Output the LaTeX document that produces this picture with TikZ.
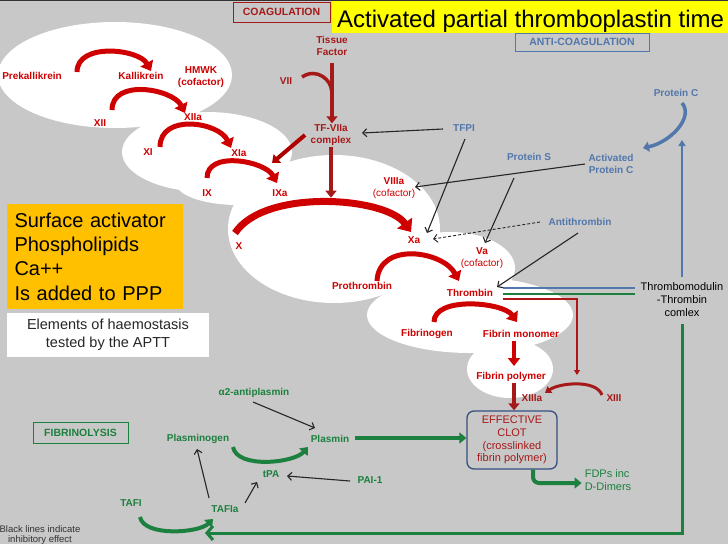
\documentclass[tikz,border=0pt]{standalone}
\usepackage{fontspec}
\setmainfont{Liberation Sans}
\usetikzlibrary{arrows.meta,calc}
\definecolor{bggray}{RGB}{200,200,200}
\definecolor{coagred}{RGB}{206,0,0}
\definecolor{tfred}{RGB}{165,25,25}
\definecolor{antiblue}{RGB}{82,119,172}
\definecolor{lysisgreen}{RGB}{28,128,62}
\definecolor{clotblue}{RGB}{55,80,130}
\definecolor{apttorange}{RGB}{255,192,0}
\definecolor{titleyellow}{RGB}{255,255,0}
\begin{document}
\begin{tikzpicture}[x=1pt,y=-1pt,
  lbl/.style={font=\bfseries\fontsize{10}{12}\selectfont,inner sep=1pt,align=center},
  coag/.style={lbl,text=coagred},
  tfac/.style={lbl,text=tfred},
  anti/.style={lbl,text=antiblue},
  lysis/.style={lbl,text=lysisgreen},
  heading/.style={font=\bfseries\fontsize{10.5}{12}\selectfont,inner sep=0pt,line width=0.9pt},
  blob/.style={fill=white},
  convert/.style={coagred,line width=5pt,-{Triangle[width=14pt,length=9pt]}},
  feed/.style={tfred,line width=4pt,-{Triangle[width=11pt,length=7pt]}},
  inhibit/.style={black!85,line width=1.1pt,-{Straight Barb[length=4pt,width=8pt]}},
  lysisarrow/.style={lysisgreen,line width=4pt,-{Triangle[width=11pt,length=7pt]}}]
\useasboundingbox (0,0) rectangle (728,544);
\fill[bggray] (0,0) rectangle (728,544);

\path[blob] (115,75) ellipse [x radius=117pt,y radius=53pt];
\path[blob] (207,152) ellipse [x radius=85pt,y radius=40pt];
\path[blob] (238,183) ellipse [x radius=62pt,y radius=22pt];
\path[blob] (334,229) ellipse [x radius=106pt,y radius=74pt];
\path[blob] (450,268) ellipse [x radius=65pt,y radius=36pt];
\path[blob] (470,315) ellipse [x radius=103pt,y radius=38pt];
\path[blob] (510,369) ellipse [x radius=43pt,y radius=29pt];

\fill[titleyellow] (332,0) rectangle (728,33);
\node[anchor=base west,inner sep=0pt,font=\fontsize{24}{28}\selectfont] (title) at (337,27) {Activated partial thromboplastin time};
\draw[black!80,line width=1.5pt] (0,0.5) -- (728,0.5);

\node[heading,draw=tfred,text=tfred,minimum width=97pt,minimum height=20pt] (coagbox) at (281.5,12) {COAGULATION};
\node[heading,draw=antiblue,text=antiblue,minimum width=134pt,minimum height=18pt] (anticoagbox) at (582,42) {ANTI-COAGULATION};
\node[heading,draw=lysisgreen,text=lysisgreen,minimum width=95pt,minimum height=21pt] (lysisbox) at (80.5,432.5) {FIBRINOLYSIS};

\node[fill=apttorange,minimum width=175pt,minimum height=105pt,text width=160pt,align=left,inner xsep=8pt,font=\fontsize{20}{24.3}\selectfont] (added) at (94.5,256.5) {Surface activator\\Phospholipids\\Ca++\\Is added to PPP};
\node[fill=white,text=black!85,minimum width=202pt,minimum height=44pt,align=center,font=\fontsize{14.5}{18}\selectfont] (tested) at (108,335) {Elements of haemostasis\\tested by the APTT};
\node[text=black!80,align=center,inner sep=0pt,font=\fontsize{9.5}{10}\selectfont] (note) at (40,535) {Black lines indicate\\inhibitory effect};

\node[coag] (prekal) at (32,76) {Prekallikrein};
\node[coag] (kal) at (141,76) {Kallikrein};
\node[coag] (hmwk) at (201,77) {HMWK\\(cofactor)};
\node[coag] (xii) at (100,123) {XII};
\node[coag] (xiia) at (193,117) {XIIa};
\node[coag] (xi) at (148,152) {XI};
\node[coag] (xia) at (239,153) {XIa};
\node[coag] (ix) at (207,193) {IX};
\node[coag] (ixa) at (280,193) {IXa};
\node[coag] (x) at (239,246) {X};
\node[coag] (xa) at (414,240) {Xa};
\node[coag] (viiia) at (394,188) {VIIIa\\{\normalfont(cofactor)}};
\node[coag] (va) at (482,258) {Va\\{\normalfont(cofactor)}};
\node[coag] (prothr) at (362,286) {Prothrombin};
\node[coag] (thromb) at (470,293) {Thrombin};
\node[coag] (fibgen) at (427,334) {Fibrinogen};
\node[coag] (fibmono) at (521,334) {Fibrin monomer};
\node[coag] (fibpoly) at (511,377) {Fibrin polymer};
\node[tfac] (xiiia) at (532,398) {XIIIa};
\node[tfac] (xiii) at (614,398) {XIII};
\node[tfac] (tf) at (332,46) {Tissue\\Factor};
\node[tfac] (vii) at (286,81) {VII};
\node[tfac] (tfviia) at (331,135) {TF-VIIa\\complex};
\node[draw=clotblue,line width=1.3pt,rounded corners=7pt,minimum width=90pt,minimum height=58pt,align=center,text=tfred,inner sep=1pt,font=\fontsize{11}{12.7}\selectfont] (clot) at (512,440) {EFFECTIVE\\CLOT\\(crosslinked\\fibrin polymer)};

\node[anti] (tfpi) at (464,128) {TFPI};
\node[anti] (prots) at (529,157) {Protein S};
\node[anti] (apc) at (611,164) {Activated\\Protein C};
\node[anti] (protc) at (676,93) {Protein C};
\node[anti] (antithr) at (580,222) {Antithrombin};
\node[align=center,inner sep=1pt,font=\fontsize{11}{13}\selectfont] (tmod) at (682,300) {Thrombomodulin\\-Thrombin\\comlex};

\node[lysis] (plgen) at (198,439) {Plasminogen};
\node[lysis] (plasmin) at (330,439) {Plasmin};
\node[lysis] (a2ap) at (254,393) {α2-antiplasmin};
\node[lysis] (tpa) at (271,474) {tPA};
\node[lysis] (pai) at (370,480) {PAI-1};
\node[lysis] (tafi) at (131,503) {TAFI};
\node[lysis] (tafia) at (225,509) {TAFIa};
\node[lysis,align=left,font=\fontsize{11}{13}\selectfont] (fdp) at (608,480) {FDPs inc\\D-Dimers};

\draw[convert] ($(prekal)+(45,-4)$) .. controls +(0,-30) and +(-12,-22) .. ($(kal)+(10,-5)$);
\draw[convert] ($(xii)+(12,-13)$) .. controls +(0,-32) and +(-12,-24) .. ($(xiia)+(-8,-4)$);
\draw[convert] ($(xi)+(12,-5)$) .. controls +(0,-34) and +(-12,-26) .. ($(xia)+(-8,-5)$);
\draw[convert] ($(ix)+(0,-15)$) .. controls +(0,-28) and +(-12,-22) .. ($(ixa)+(-3,-10)$);
\draw[convert,line width=7pt,-{Triangle[width=18pt,length=11pt]}] ($(x)+(-4,-13)$) .. controls +(30,-45) and +(-25,-35) .. ($(xa)+(-3,-8)$);
\draw[convert] ($(prothr)+(15,-5)$) .. controls +(2,-40) and +(-16,-30) .. ($(thromb)+(-11,-12)$);
\draw[convert] ($(fibgen)+(7,-12)$) .. controls +(0,-26) and +(-14,-20) .. ($(fibmono)+(-4,-12)$);
\draw[tfred,line width=3pt,-{Triangle[width=8pt,length=6pt]}] ($(xiii)+(-12,-3)$) .. controls +(-6,-16) and +(14,-10) .. ($(xiiia)+(13,-5)$);

\draw[feed,shorten <=6pt] (tf.south) -- (tf.south |- tfviia.north);
\draw[tfred,line width=3.5pt] ($(vii)+(16,-4)$) .. controls +(15,-10) and +(0,-10) .. ($(tf)!0.5!(tfviia)$);
\draw[feed,coagred!85!black] ($(tfviia)+(-26,0)$) -- ($(ixa)+(-8,-30)$);
\draw[feed] (tfviia.south) -- ++(0,51);
\draw[convert,line width=4.5pt,-{Triangle[width=12pt,length=8pt]}] ($(fibmono)+(-7,7)$) -- ($(fibpoly)+(3,-11)$);
\draw[feed] ($(fibpoly)+(3,6)$) -- ($(clot.north)+(2,0)$);
\draw[tfred!90!red,line width=1.8pt,-{Triangle[width=6pt,length=5pt]}] ($(thromb)+(33,6)$) -| ($(xiii)+(-37,-23)$);

\draw[antiblue,line width=1.6pt] ($(thromb)+(33,-5)$) -- ($(tmod.west)+(-5,-12)$);
\draw[lysisgreen,line width=1.6pt] ($(thromb)+(33,1)$) -- ($(tmod.west)+(-5,-6)$);
\draw[antiblue,line width=2.5pt,-{Triangle[width=7pt,length=6pt]}] ($(tmod)+(0,-23)$) -- ($(protc)+(6,47)$);
\draw[antiblue,line width=3.5pt,-{Triangle[width=10pt,length=6pt]}] ($(protc)+(6,10)$) .. controls +(12,14) and +(28,-6) .. ($(apc)+(32,-16)$);
\draw[lysisgreen,line width=3pt,-{Straight Barb[length=6pt,width=14pt]}] ($(tmod)+(0,24)$) |- ($(tafia)+(-20,24)$);

\draw[lysisarrow] ($(plasmin)+(25,-1)$) -- ($(clot.west)+(0,-2)$);
\draw[lysisarrow,rounded corners=6pt] ($(clot.south)+(21,0)$) |- ($(fdp.west)+(-2,3)$);
\draw[lysisarrow] ($(plgen)+(35,8)$) .. controls +(4,22) and +(-14,16) .. ($(plasmin)+(-22,8)$);
\draw[lysisarrow] ($(tafi)+(9,14)$) .. controls +(4,20) and +(-14,14) .. ($(tafia)+(-12,10)$);

\draw[inhibit] ($(tfpi)+(-21,1)$) -- ($(tfviia)+(31,-2)$);
\draw[inhibit] ($(tfpi)+(1,11)$) -- ($(xa)+(13,-7)$);
\draw[inhibit] ($(apc)+(-26,0)$) -- ($(viiia)+(21,-1)$);
\draw[inhibit] ($(prots)+(-15,21)$) -- ($(va)+(3,-15)$);
\draw[inhibit,line width=0.9pt,dash pattern=on 3pt off 2pt] ($(antithr)+(-40,0)$) -- ($(xa)+(19,-1)$);
\draw[inhibit] ($(antithr)+(-2,11)$) -- ($(thromb)+(27,-6)$);
\draw[inhibit] ($(a2ap)+(-1,9)$) -- ($(plasmin)+(-15,-11)$);
\draw[inhibit] ($(pai)+(-20,1)$) -- ($(tpa)+(16,2)$);
\draw[inhibit] ($(tafia)+(-16,-11)$) -- ($(plgen)+(-1,10)$);
\draw[inhibit] ($(tafia)+(20,-6)$) -- ($(tpa)+(-14,8)$);
\end{tikzpicture}
\end{document}
